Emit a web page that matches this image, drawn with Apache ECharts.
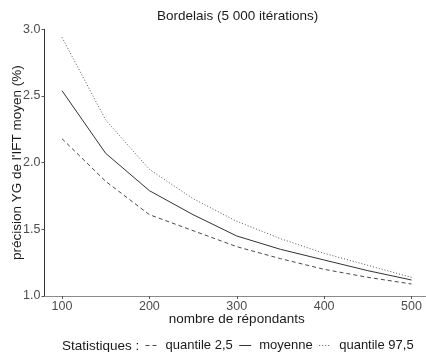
<!DOCTYPE html>
<html><head><meta charset="utf-8">
<script src="https://cdn.jsdelivr.net/npm/echarts@6/dist/echarts.min.js"></script>
<style>html,body{margin:0;padding:0;background:#fff}#c{width:426px;height:352px}</style>
</head><body><div id="c"></div>
<script>
const repondants = [100, 150, 200, 250, 300, 350, 400, 450, 500];
const quantile025 = [2.18, 1.86, 1.61, 1.49, 1.37, 1.28, 1.20, 1.14, 1.09];
const moyenne = [2.54, 2.07, 1.79, 1.61, 1.45, 1.35, 1.27, 1.19, 1.12];
const quantile975 = [2.94, 2.32, 1.95, 1.73, 1.56, 1.43, 1.32, 1.23, 1.14];
const xTicks = [100, 200, 300, 400, 500];
const seriesNames = ['quantile 2,5', 'moyenne', 'quantile 97,5'];

const font = 'Liberation Sans, Arial, sans-serif';
const pairs = a => repondants.map((x, i) => [x, a[i]]);
const chart = echarts.init(document.getElementById('c'), null, {renderer: 'canvas'});
chart.setOption({
  animation: false,
  backgroundColor: '#fff',
  title: {
    text: 'Bordelais (5 000 itérations)', left: 157, top: 9, padding: 0,
    textStyle: {fontFamily: font, fontSize: 13.5, fontWeight: 'normal', color: '#1a1a1a'}
  },
  grid: {left: 44.5, top: 29.3, width: 384.5, height: 266.7, containLabel: false, outerBoundsMode: 'none'},
  xAxis: {
    type: 'value', min: 80, max: 520,
    name: 'nombre de répondants', nameLocation: 'middle', nameGap: 16, nameMoveOverlap: false,
    nameTextStyle: {fontFamily: font, fontSize: 13.5, color: '#1a1a1a'},
    axisLine: {show: true, lineStyle: {color: '#8a8a8a', width: 1}},
    axisTick: {show: true, length: 3, customValues: xTicks, lineStyle: {color: '#555'}},
    axisLabel: {customValues: xTicks, fontFamily: font, fontSize: 12.5, color: '#4d4d4d', margin: 4},
    splitLine: {show: false}
  },
  yAxis: {
    type: 'value', min: 1, max: 3, interval: 0.5,
    name: "précision YG de l'IFT moyen (%)", nameLocation: 'middle', nameGap: 20, nameMoveOverlap: false,
    nameTextStyle: {fontFamily: font, fontSize: 13.5, color: '#1a1a1a'},
    axisLine: {show: true, lineStyle: {color: '#333', width: 1}},
    axisTick: {show: true, length: 3, lineStyle: {color: '#555'}},
    axisLabel: {fontFamily: font, fontSize: 12.5, color: '#4d4d4d', margin: 4,
      formatter: v => v.toFixed(1)},
    splitLine: {show: false}
  },
  legend: {
    data: seriesNames, left: 145, top: 339, width: 300, padding: 0,
    itemWidth: 12, itemHeight: 14, itemGap: 6,
    itemStyle: {opacity: 0}, lineStyle: {opacity: 1, width: 1},
    textStyle: {fontFamily: font, fontSize: 13, color: '#1a1a1a', padding: [0, 0, 0, 3]}
  },
  graphic: [{
    type: 'text', left: 62, top: 339,
    style: {text: 'Statistiques :', font: '13.5px ' + font, fill: '#1a1a1a'}
  }],
  series: [
    {name: seriesNames[0], type: 'line', data: pairs(quantile025), symbol: 'none',
     lineStyle: {color: '#4a4a4a', width: 1, type: [4, 3]}, itemStyle: {color: '#4a4a4a'}},
    {name: seriesNames[1], type: 'line', data: pairs(moyenne), symbol: 'none',
     lineStyle: {color: '#333', width: 1, type: 'solid'}, itemStyle: {color: '#333'}},
    {name: seriesNames[2], type: 'line', data: pairs(quantile975), symbol: 'none',
     lineStyle: {color: '#555', width: 1, type: [1, 2]}, itemStyle: {color: '#555'}}
  ]
});
</script></body></html>
